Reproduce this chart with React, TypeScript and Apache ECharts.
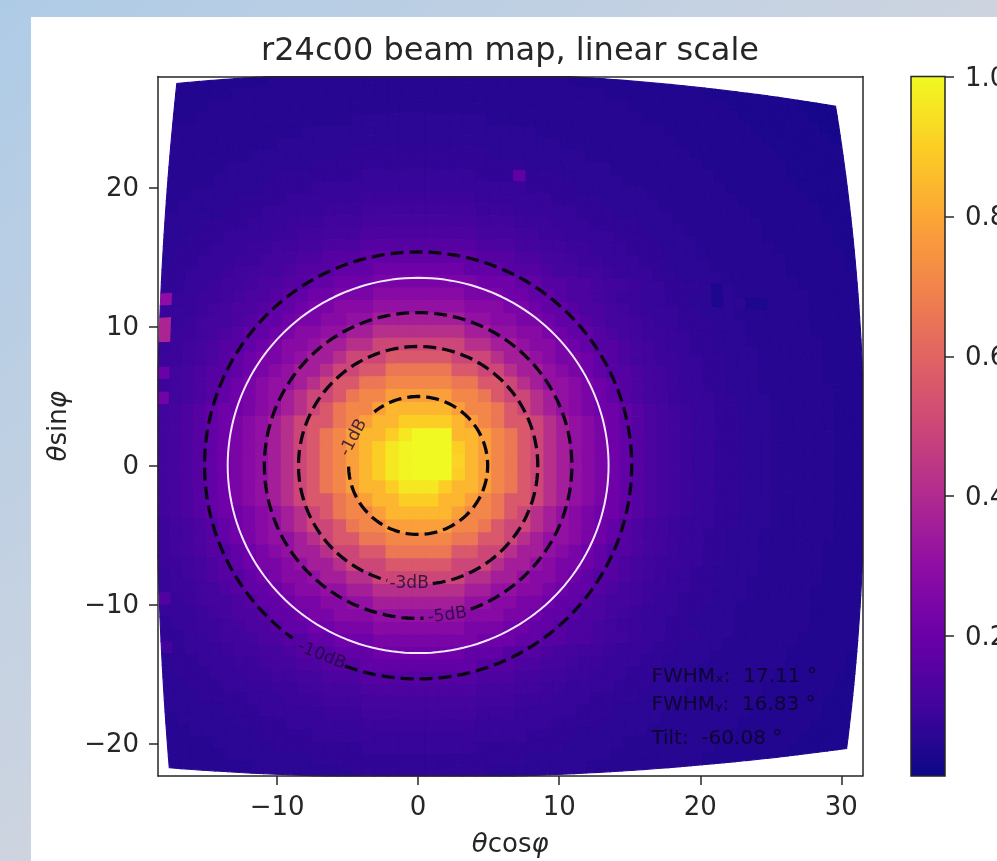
import React, { useEffect, useRef } from "react";
import * as echarts from "echarts";

const TITLE = "r24c00 beam map, linear scale";
const xTicks = [-10, 0, 10, 20, 30];
const yTicks = [-20, -10, 0, 10, 20];
const barTicks = [0.2, 0.4, 0.6, 0.8, 1.0];
const plasma = ["#0d0887", "#41049d", "#6a00a8", "#8f0da4", "#b12a90", "#cc4778", "#e16462", "#f2844b", "#fca636", "#fcce25", "#f0f921"];

// Beam level in percent, one row per scan line (top row first), one value per scan column (left to right).
const beamRows: number[][] = [
[4,4,4,4,4,4,4,4,5,5,5,5,5,5,5,5,5,5,5,5,5,5,5,5,5,5,5,5,5,5,5,5,5,4,4,4,4,4,4,4,4,4,4,4,4,3,3,3,3,3,3,3,3,3,2,2,2,2],
[4,4,4,4,4,5,5,5,5,5,5,5,5,5,5,5,5,5,5,5,5,5,5,5,5,5,5,5,5,5,5,5,5,5,5,5,4,4,4,4,4,4,4,4,4,4,4,3,3,3,3,3,3,3,3,2,2,2],
[4,4,4,5,5,5,5,5,5,5,5,5,5,5,5,5,5,5,5,5,5,5,5,5,5,5,5,5,5,5,5,5,5,5,5,5,5,5,4,4,4,4,4,4,4,4,4,4,3,3,3,3,3,3,3,3,2,2],
[4,4,5,5,5,5,5,5,5,5,5,5,5,5,5,5,5,5,5,5,5,5,5,5,5,5,5,5,5,5,5,5,5,5,5,5,5,5,5,4,4,4,4,4,4,4,4,4,4,3,3,3,3,3,3,3,3,2],
[5,5,5,5,5,5,5,5,5,5,5,5,5,5,5,6,6,6,6,6,6,6,6,6,6,6,5,5,5,5,5,5,5,5,5,5,5,5,5,5,5,4,4,4,4,4,4,4,4,4,3,3,3,3,3,3,3,3],
[5,5,5,5,5,5,5,5,5,5,5,6,6,6,6,6,6,6,6,6,6,6,6,6,6,6,6,6,6,6,5,5,5,5,5,5,5,5,5,5,5,5,4,4,4,4,4,4,4,4,4,3,3,3,3,3,3,3],
[5,5,5,5,5,5,5,5,5,6,6,6,6,6,6,6,6,6,6,6,6,6,6,6,6,6,6,6,6,6,6,6,5,5,5,5,5,5,5,5,5,5,5,4,4,4,4,4,4,4,4,4,3,3,3,3,3,3],
[5,5,5,5,5,5,5,6,6,6,6,6,6,6,6,7,7,7,7,7,7,7,7,7,7,7,6,6,6,6,6,6,6,6,5,5,5,5,5,5,5,5,5,5,4,4,4,4,4,4,4,4,3,3,3,3,3,3],
[5,5,5,5,5,6,6,6,6,6,6,6,7,7,7,7,7,7,7,7,7,7,7,7,7,7,7,7,7,6,6,6,6,6,6,6,5,5,5,5,5,5,5,5,5,4,4,4,4,4,4,4,4,3,3,3,3,3],
[5,5,5,5,6,6,6,6,6,7,7,7,7,7,7,7,8,8,8,8,8,8,8,8,8,7,7,7,7,7,7,7,6,6,6,6,6,5,5,5,5,5,5,5,5,5,4,4,4,4,4,4,4,4,3,3,3,3],
[5,5,6,6,6,6,6,6,7,7,7,7,8,8,8,8,8,8,8,8,8,8,8,8,8,8,8,8,8,7,7,7,7,6,6,6,6,6,6,5,5,5,5,5,5,5,5,4,4,4,4,4,4,4,4,3,3,3],
[5,6,6,6,6,6,7,7,7,7,8,8,8,8,8,8,9,9,9,9,9,9,9,9,9,8,8,8,8,8,8,7,7,7,7,6,6,6,6,6,5,5,5,5,5,5,5,5,4,4,4,4,4,4,4,3,3,3],
[6,6,6,6,6,7,7,7,8,8,8,8,8,9,9,9,10,10,10,10,10,10,10,10,10,9,9,9,8,8,8,8,8,7,7,7,6,6,6,6,6,5,5,5,5,5,5,5,5,4,4,4,4,4,4,4,3,3],
[6,6,6,7,7,7,7,8,8,8,9,9,9,10,10,10,11,11,11,11,11,11,11,11,11,10,10,10,9,9,9,8,8,8,7,7,7,7,6,6,6,6,5,5,5,5,5,5,5,4,4,4,4,4,4,4,3,3],
[6,6,7,7,7,8,8,8,8,9,9,10,10,11,11,11,13,13,13,13,13,13,13,13,13,11,11,11,10,10,9,9,8,8,8,8,7,7,7,6,6,6,6,5,5,5,5,5,5,5,4,4,4,4,4,4,4,3],
[6,7,7,7,8,8,8,9,9,10,10,11,11,13,13,13,15,15,15,15,15,15,15,15,15,13,13,13,11,11,10,10,9,9,8,8,8,7,7,7,6,6,6,5,5,5,5,5,5,5,5,4,4,4,4,4,4,3],
[6,7,7,8,8,8,9,9,10,11,11,13,13,15,15,15,18,18,18,18,18,18,18,18,18,15,15,15,13,13,11,11,10,9,9,8,8,8,7,7,6,6,6,6,5,5,5,5,5,5,5,4,4,4,4,4,4,4],
[7,7,8,8,8,9,10,10,11,11,13,15,15,15,18,18,18,21,21,21,21,21,21,21,18,18,18,15,15,15,13,11,11,10,10,9,8,8,8,7,7,6,6,6,6,5,5,5,5,5,5,5,4,4,4,4,4,4],
[7,7,8,8,9,10,10,11,13,13,15,15,18,18,21,21,21,24,24,24,24,24,24,24,24,21,21,21,18,18,15,15,13,13,11,10,10,9,8,8,7,7,7,6,3,6,5,5,5,5,5,5,5,4,4,4,4,4],
[30,8,8,9,9,10,11,13,13,15,18,18,21,21,24,24,24,28,28,28,28,28,28,28,24,24,24,21,21,18,18,15,13,13,11,10,9,9,8,8,7,7,6,6,3,6,6,3,3,5,5,5,5,4,4,4,4,4],
[8,8,8,9,10,11,13,13,15,18,18,21,24,24,28,28,28,31,31,31,31,31,31,31,28,28,28,24,24,21,18,18,15,13,13,11,10,9,8,8,8,7,7,6,6,6,5,5,5,5,5,5,5,4,4,4,4,4],
[38,8,9,10,11,11,13,15,18,18,21,24,24,28,28,31,31,36,36,36,36,36,36,36,31,31,28,28,24,24,21,18,18,15,13,11,11,10,9,8,8,7,7,7,6,6,6,5,5,5,5,5,5,4,4,4,4,4],
[38,9,9,10,11,13,15,18,18,21,24,28,28,31,31,36,36,42,42,42,42,42,42,42,36,36,31,31,28,28,24,21,18,18,15,13,11,10,9,9,8,8,7,7,6,6,6,5,5,5,5,5,5,5,4,4,4,4],
[8,9,10,11,13,15,15,18,21,24,28,28,31,36,36,42,42,50,50,50,50,50,50,50,42,42,36,36,31,28,28,24,21,18,15,15,13,11,10,9,8,8,7,7,6,6,6,6,5,5,5,5,5,5,4,4,4,4],
[9,9,10,11,13,15,18,21,24,24,28,31,36,36,42,50,50,50,56,56,56,56,56,50,50,50,42,36,36,31,28,24,24,21,18,15,13,11,10,9,9,8,8,7,7,6,6,6,5,5,5,5,5,5,4,4,4,4],
[20,10,11,13,15,15,18,21,24,28,31,36,36,42,50,50,56,56,66,66,66,66,66,56,56,50,50,42,36,36,31,28,24,21,18,15,15,13,11,10,9,8,8,7,7,6,6,6,5,5,5,5,5,5,4,4,4,4],
[9,10,11,13,15,18,21,24,28,31,31,36,42,50,56,56,66,66,71,71,71,71,71,66,66,56,56,50,42,36,31,31,28,24,21,18,15,13,11,10,9,8,8,7,7,6,6,6,5,5,5,5,5,5,5,4,4,4],
[22,10,11,13,15,18,21,24,28,31,36,42,50,50,56,66,71,71,78,78,78,78,78,71,71,66,56,50,50,42,36,31,28,24,21,18,15,13,11,10,9,8,8,8,7,7,6,6,6,5,5,5,5,5,5,4,4,4],
[10,11,13,15,18,21,21,24,28,31,36,42,50,56,66,71,71,78,84,84,84,84,84,78,71,71,66,56,50,42,36,31,28,24,21,21,18,15,13,11,10,9,8,8,7,7,6,6,6,5,5,5,5,5,5,4,4,4],
[10,11,13,15,18,21,24,28,31,36,42,50,56,56,66,71,78,84,84,90,90,90,90,84,78,71,66,56,56,50,42,36,31,28,24,21,18,15,13,11,10,9,8,8,7,7,6,6,6,5,5,5,5,5,5,4,4,4],
[10,11,13,15,18,21,24,28,31,36,42,50,56,66,71,78,84,84,90,96,100,100,100,84,84,78,71,66,56,50,42,36,31,28,24,21,18,15,13,11,10,9,8,8,7,7,6,6,6,5,5,5,5,5,5,4,4,4],
[10,11,13,15,18,21,24,28,31,36,42,50,56,66,71,78,84,90,96,99,100,100,100,90,84,78,71,66,56,50,42,36,31,28,24,21,18,15,13,11,10,9,8,8,7,7,6,6,6,5,5,5,5,5,5,4,4,4],
[10,11,13,15,18,21,24,28,31,36,42,50,56,66,71,78,84,90,96,99,100,100,100,91,84,78,71,66,56,50,42,36,31,28,24,21,18,15,13,11,10,9,8,8,7,7,6,6,6,5,5,5,5,5,5,4,4,4],
[10,11,13,15,18,21,24,28,31,36,42,50,56,66,71,78,84,90,96,99,100,100,100,90,84,78,71,66,56,50,42,36,31,28,24,21,18,15,13,11,10,9,8,8,7,7,6,6,6,5,5,5,5,5,5,4,4,4],
[10,11,13,15,18,21,24,28,31,36,42,50,56,66,71,78,84,84,90,96,96,96,90,84,84,78,71,66,56,50,42,36,31,28,24,21,18,15,13,11,10,9,8,8,7,7,6,6,6,5,5,5,5,5,5,4,4,4],
[10,11,13,15,18,21,24,28,31,36,42,50,56,56,66,71,78,84,84,90,90,90,84,84,78,71,66,56,56,50,42,36,31,28,24,21,18,15,13,11,10,9,8,8,7,7,6,6,6,5,5,5,5,5,5,4,4,4],
[10,11,13,15,18,21,21,24,28,31,36,42,50,56,66,71,71,78,84,84,84,84,84,78,71,71,66,56,50,42,36,31,28,24,21,21,18,15,13,11,10,9,8,8,7,7,6,6,6,5,5,5,5,5,5,4,4,4],
[9,10,11,13,15,18,21,24,28,31,36,42,50,50,56,66,71,71,78,78,78,78,78,71,71,66,56,50,50,42,36,31,28,24,21,18,15,13,11,10,9,8,8,8,7,7,6,6,6,5,5,5,5,5,5,4,4,4],
[9,10,11,13,15,18,21,24,28,31,31,36,42,50,56,56,66,66,71,71,71,71,71,66,66,56,56,50,42,36,31,31,28,24,21,18,15,13,11,10,9,8,8,7,7,6,6,6,5,5,5,5,5,5,5,4,4,4],
[9,10,11,13,15,15,18,21,24,28,31,36,36,42,50,50,56,56,66,66,66,66,66,56,56,50,50,42,36,36,31,28,24,21,18,15,15,13,11,10,9,8,8,7,7,6,6,6,5,5,5,5,5,5,4,4,4,4],
[9,9,10,11,13,15,18,21,24,24,28,31,36,36,42,50,50,50,56,56,56,56,56,50,50,50,42,36,36,31,28,24,24,21,18,15,13,11,10,9,9,8,8,7,7,6,6,6,5,5,5,5,5,5,4,4,4,4],
[8,9,10,11,13,15,15,18,21,24,28,28,31,36,36,42,42,50,50,50,50,50,50,50,42,42,36,36,31,28,28,24,21,18,15,15,13,11,10,9,8,8,7,7,6,6,6,6,5,5,5,5,5,5,4,4,4,4],
[8,9,9,10,11,13,15,18,18,21,24,28,28,31,31,36,36,42,42,42,42,42,42,42,36,36,31,31,28,28,24,21,18,18,15,13,11,10,9,9,8,8,7,7,6,6,6,5,5,5,5,5,5,5,4,4,4,4],
[14,8,9,10,11,11,13,15,18,18,21,24,24,28,28,31,31,36,36,36,36,36,36,36,31,31,28,28,24,24,21,18,18,15,13,11,11,10,9,8,8,7,7,7,6,6,6,5,5,5,5,5,5,4,4,4,4,4],
[8,8,8,9,10,11,13,13,15,18,18,21,24,24,28,28,28,31,31,31,31,31,31,31,28,28,28,24,24,21,18,18,15,13,13,11,10,9,8,8,8,7,7,6,6,6,5,5,5,5,5,5,5,4,4,4,4,4],
[7,8,8,9,9,10,11,13,13,15,18,18,21,21,24,24,24,28,28,28,28,28,28,28,24,24,24,21,21,18,18,15,13,13,11,10,9,9,8,8,7,7,6,6,6,6,5,5,5,5,5,5,5,4,4,4,4,4],
[7,7,8,8,9,10,10,11,13,13,15,15,18,18,21,21,21,24,24,24,24,24,24,24,24,21,21,21,18,18,15,15,13,13,11,10,10,9,8,8,7,7,7,6,6,6,5,5,5,5,5,5,5,4,4,4,4,4],
[10,7,8,8,8,9,10,10,11,11,13,15,15,15,18,18,18,21,21,21,21,21,21,21,18,18,18,15,15,15,13,11,11,10,10,9,8,8,8,7,7,6,6,6,6,5,5,5,5,5,5,5,4,4,4,4,4,4],
[6,7,7,8,8,8,9,9,10,11,11,13,13,15,15,15,18,18,18,18,18,18,18,18,18,15,15,15,13,13,11,11,10,9,9,8,8,8,7,7,6,6,6,6,5,5,5,5,5,5,5,4,4,4,4,4,4,4],
[6,7,7,7,8,8,8,9,9,10,10,11,11,13,13,13,15,15,15,15,15,15,15,15,15,13,13,13,11,11,10,10,9,9,8,8,8,7,7,7,6,6,6,5,5,5,5,5,5,5,5,4,4,4,4,4,4,3],
[6,6,7,7,7,8,8,8,8,9,9,10,10,11,11,11,13,13,13,13,13,13,13,13,13,11,11,11,10,10,9,9,8,8,8,8,7,7,7,6,6,6,6,5,5,5,5,5,5,5,4,4,4,4,4,4,4,3],
[6,6,6,7,7,7,7,8,8,8,9,9,9,10,10,10,11,11,11,11,11,11,11,11,11,10,10,10,9,9,9,8,8,8,7,7,7,7,6,6,6,6,5,5,5,5,5,5,5,4,4,4,4,4,4,4,3,3],
[6,6,6,6,6,7,7,7,8,8,8,8,8,9,9,9,10,10,10,10,10,10,10,10,10,9,9,9,8,8,8,8,8,7,7,7,6,6,6,6,6,5,5,5,5,5,5,5,5,4,4,4,4,4,4,4,3,3],
[5,6,6,6,6,6,7,7,7,7,8,8,8,8,8,8,9,9,9,9,9,9,9,9,9,8,8,8,8,8,8,7,7,7,7,6,6,6,6,6,5,5,5,5,5,5,5,5,4,4,4,4,4,4,4,3,3,3],
[5,5,6,6,6,6,6,6,7,7,7,7,8,8,8,8,8,8,8,8,8,8,8,8,8,8,8,8,8,7,7,7,7,6,6,6,6,6,6,5,5,5,5,5,5,5,5,4,4,4,4,4,4,4,4,3,3,3],
[5,5,5,5,6,6,6,6,6,7,7,7,7,7,7,7,8,8,8,8,8,8,8,8,8,7,7,7,7,7,7,7,6,6,6,6,6,5,5,5,5,5,5,5,5,5,4,4,4,4,4,4,4,4,3,3,3,3],
[5,5,5,5,5,6,6,6,6,6,6,6,7,7,7,7,7,7,7,7,7,7,7,7,7,7,7,7,7,6,6,6,6,6,6,6,5,5,5,5,5,5,5,5,5,4,4,4,4,4,4,4,4,3,3,3,3,3],
[5,5,5,5,5,5,5,6,6,6,6,6,6,6,6,7,7,7,7,7,7,7,7,7,7,7,6,6,6,6,6,6,6,6,5,5,5,5,5,5,5,5,5,5,4,4,4,4,4,4,4,4,3,3,3,3,3,3],
];
const hotSpot = { column: 28, row: 48, level: 17 };

// Scan grid on the tangent plane.
const gridLeft = -0.335;
const gridBottom = -0.413;
const gridStep = 0.0164;

const contourLevels = ["-1dB", "-3dB", "-5dB", "-10dB"];
const contourRadiusX = [4.93, 8.48, 10.9, 15.14];
const contourRadiusY = [4.96, 8.56, 11.0, 15.36];
const contourGapStart = [130, 255, 272, 235];
const contourGapEnd = [181, 277, 290, 250];
const contourLabelX = [-4.68, -0.64, 2.06, -6.8];
const contourLabelY = [2.05, -8.38, -10.68, -13.56];
const contourLabelAngle = [62, 0, 8, -22];
const whiteCircle = { radiusX: 13.5, radiusY: 13.5 };

const notes = ["FWHMₓ:  17.11 °", "FWHMᵧ:  16.83 °", "Tilt:  -60.08 °"];
const noteX = [16.5, 16.5, 16.5];
const noteY = [-15.07, -17.1, -19.5];

const FONT = "DejaVu Sans";
const INK = "#262626";

function project(u: number, v: number): number[] {
  const r = Math.hypot(u, v);
  if (r === 0) return [0, 0];
  const theta = (Math.atan(r) * 180) / Math.PI;
  return [(theta * u) / r, (theta * v) / r];
}

function arc(rx: number, ry: number, from: number, to: number): number[][] {
  const pts: number[][] = [];
  for (let a = from; a <= to; a += 2) {
    const t = (a * Math.PI) / 180;
    pts.push([rx * Math.cos(t), ry * Math.sin(t)]);
  }
  return pts;
}

function buildOption() {
  const cells: number[][] = [];
  const rowCount = beamRows.length;
  beamRows.forEach((row, r) => {
    const j = rowCount - 1 - r;
    row.forEach((level, i) => {
      const value = i === hotSpot.column && j === hotSpot.row ? hotSpot.level : level;
      const c = project(gridLeft + (i + 0.5) * gridStep, gridBottom + (j + 0.5) * gridStep);
      cells.push([c[0], c[1], value / 100, i, j]);
    });
  });

  const axisLine = { show: true, onZero: false, lineStyle: { color: INK, width: 1.5 } };
  const tick = { show: true, length: 9, lineStyle: { color: INK, width: 1.5 } };
  const labelStyle = { color: INK, fontFamily: FONT, fontSize: 26 };
  const minus = (v: number) => String(v).replace("-", "\u2212");
  const xRange = { min: -18.44, max: 31.5 };
  const yRange = { min: -22.34, max: 27.98 };
  const nameRich = {
    i: { fontStyle: "italic", fontFamily: FONT, fontSize: 26, color: INK },
  };

  const series: any[] = [
    {
      type: "custom",
      coordinateSystem: "cartesian2d",
      xAxisIndex: 0,
      yAxisIndex: 0,
      clip: true,
      z: 2,
      silent: true,
      encode: { x: 0, y: 1 },
      data: cells,
      renderItem: (params: any, api: any) => {
        const i = api.value(3);
        const j = api.value(4);
        const level = api.value(2);
        const corners = [
          [i, j],
          [i + 1, j],
          [i + 1, j + 1],
          [i, j + 1],
        ].map(([a, b]) => api.coord(project(gridLeft + a * gridStep, gridBottom + b * gridStep)));
        const box = params.coordSys;
        const points = echarts.graphic.clipPointsByRect(corners, {
          x: box.x,
          y: box.y,
          width: box.width,
          height: box.height,
        });
        const xs = points.map((p: number[]) => p[0]);
        const ys = points.map((p: number[]) => p[1]);
        if (Math.max(...xs) - Math.min(...xs) < 0.01 || Math.max(...ys) - Math.min(...ys) < 0.01) return null;
        const fill = echarts.color.lerp(level, plasma);
        return {
          type: "polygon",
          shape: { points },
          style: { fill, stroke: fill, lineWidth: 1.1 },
        };
      },
    },
    {
      type: "line",
      xAxisIndex: 0,
      yAxisIndex: 0,
      z: 3,
      silent: true,
      symbol: "none",
      data: arc(whiteCircle.radiusX, whiteCircle.radiusY, 0, 360),
      lineStyle: { color: "#f6e9ff", width: 2 },
    },
    ...contourLevels.map((name, k) => ({
      type: "line",
      name,
      xAxisIndex: 0,
      yAxisIndex: 0,
      z: 3,
      silent: true,
      symbol: "none",
      data: arc(contourRadiusX[k], contourRadiusY[k], contourGapEnd[k], contourGapStart[k] + 360),
      lineStyle: { color: "#0b0712", width: 3.3, type: [13, 6] },
    })),
    {
      type: "scatter",
      xAxisIndex: 0,
      yAxisIndex: 0,
      z: 4,
      silent: true,
      symbolSize: 1,
      itemStyle: { color: "transparent" },
      data: contourLevels.map((name, k) => ({
        name,
        value: [contourLabelX[k], contourLabelY[k]],
        label: { rotate: contourLabelAngle[k] },
      })),
      label: {
        show: true,
        position: "inside",
        formatter: "{b}",
        color: "#1c0a30",
        fontFamily: FONT,
        fontSize: 17,
      },
    },
    {
      type: "scatter",
      xAxisIndex: 0,
      yAxisIndex: 0,
      z: 4,
      silent: true,
      symbolSize: 1,
      itemStyle: { color: "transparent" },
      data: notes.map((name, k) => ({ name, value: [noteX[k], noteY[k]] })),
      label: {
        show: true,
        position: "right",
        distance: 0,
        formatter: "{b}",
        color: "#08041c",
        fontFamily: FONT,
        fontSize: 20,
      },
    },
    {
      type: "custom",
      coordinateSystem: "cartesian2d",
      xAxisIndex: 2,
      yAxisIndex: 2,
      z: 2,
      silent: true,
      encode: { x: 0, y: 1 },
      data: [[0, 0]],
      renderItem: (_p: any, api: any) => {
        const a = api.coord([0, 0]);
        const b = api.coord([1, 1]);
        return {
          type: "rect",
          shape: { x: a[0], y: b[1], width: b[0] - a[0], height: a[1] - b[1] },
          style: {
            fill: new echarts.graphic.LinearGradient(
              0,
              1,
              0,
              0,
              plasma.map((color, n) => ({ offset: n / (plasma.length - 1), color }))
            ),
            stroke: INK,
            lineWidth: 1.5,
          },
        };
      },
    },
  ];

  return {
    animation: false,
    backgroundColor: "transparent",
    textStyle: { fontFamily: FONT },
    title: {
      text: TITLE,
      left: 505,
      top: 28,
      textAlign: "center",
      textStyle: { color: INK, fontFamily: FONT, fontWeight: "normal", fontSize: 32 },
    },
    grid: [
      { left: 158, top: 76.5, width: 704.5, height: 699.5, outerBoundsMode: "none" },
      { left: 911, top: 76.5, width: 34, height: 699.5, outerBoundsMode: "none" },
    ],
    xAxis: [
      {
        type: "value",
        gridIndex: 0,
        position: "bottom",
        ...xRange,
        z: 10,
        axisLine: axisLine,
        axisTick: { ...tick, customValues: xTicks },
        axisLabel: { ...labelStyle, margin: 17, customValues: xTicks, formatter: minus },
        splitLine: { show: false },
        name: "{i|θ}cos{i|φ}",
        nameLocation: "middle",
        nameGap: 54,
        nameTextStyle: { ...labelStyle, rich: nameRich },
      },
      {
        type: "value",
        gridIndex: 0,
        position: "top",
        ...xRange,
        z: 10,
        axisLine: axisLine,
        axisTick: { show: false },
        axisLabel: { show: false },
        splitLine: { show: false },
      },
      { type: "value", gridIndex: 1, min: 0, max: 1, show: false },
    ],
    yAxis: [
      {
        type: "value",
        gridIndex: 0,
        position: "left",
        ...yRange,
        z: 10,
        axisLine: axisLine,
        axisTick: { ...tick, customValues: yTicks },
        axisLabel: { ...labelStyle, margin: 19, customValues: yTicks, formatter: minus },
        splitLine: { show: false },
        name: "{i|θ}sin{i|φ}",
        nameLocation: "middle",
        nameGap: 88,
        nameTextStyle: { ...labelStyle, rich: nameRich },
      },
      {
        type: "value",
        gridIndex: 0,
        position: "right",
        ...yRange,
        z: 10,
        axisLine: axisLine,
        axisTick: { show: false },
        axisLabel: { show: false },
        splitLine: { show: false },
      },
      {
        type: "value",
        gridIndex: 1,
        position: "right",
        min: 0,
        max: 1,
        z: 10,
        axisLine: { show: false, onZero: false },
        axisTick: { ...tick, customValues: barTicks },
        axisLabel: {
          ...labelStyle,
          margin: 20,
          customValues: barTicks,
          formatter: (v: number) => v.toFixed(1),
        },
        splitLine: { show: false },
      },
    ],
    series,
  };
}

export default function App() {
  const ref = useRef<HTMLDivElement>(null);
  useEffect(() => {
    if (!ref.current) return;
    const chart = echarts.init(ref.current, undefined, { renderer: "svg" });
    chart.setOption(buildOption() as any);
    return () => chart.dispose();
  }, []);
  return (
    <div
      style={{
        position: "fixed",
        left: 0,
        top: 0,
        width: 997,
        height: 861,
        overflow: "hidden",
        background: "linear-gradient(to bottom right, #aecbe6 0%, #cdd4e0 50%, #d5d8e0 100%)",
      }}
    >
      <div style={{ position: "absolute", left: 31, top: 17, width: 966, height: 844, background: "#ffffff" }} />
      <div ref={ref} style={{ position: "absolute", left: 0, top: 0, width: 997, height: 861, filter: "blur(0.5px)" }} />
    </div>
  );
}
